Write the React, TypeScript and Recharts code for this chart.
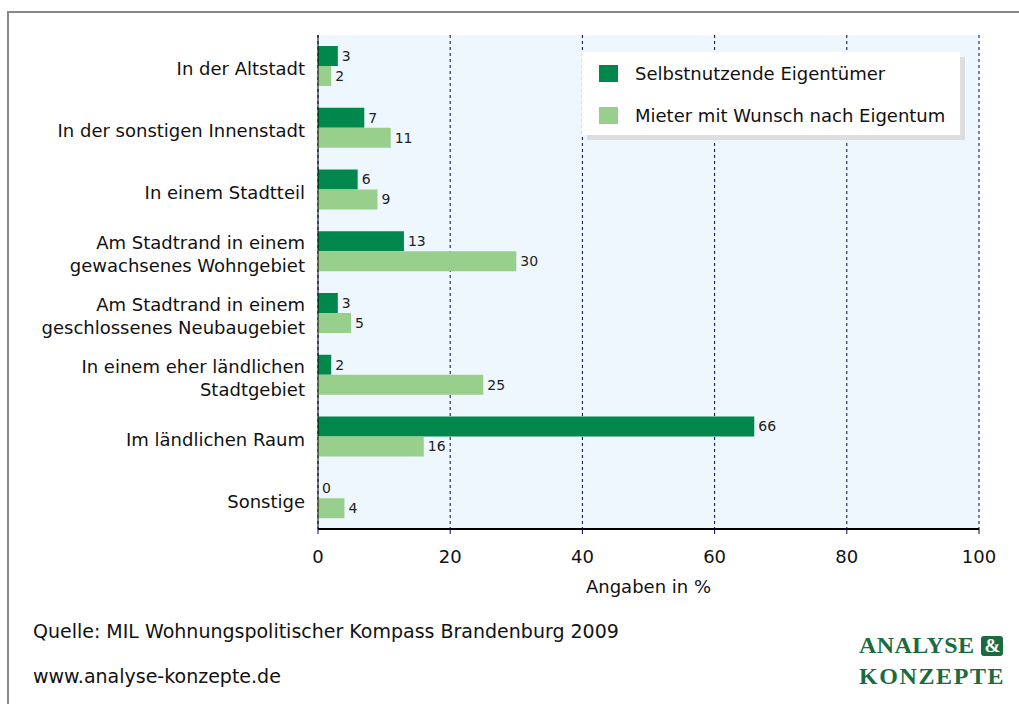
import { BarChart, Bar, XAxis, YAxis, CartesianGrid, LabelList } from 'recharts';

const categories = [
  'In der Altstadt',
  'In der sonstigen Innenstadt',
  'In einem Stadtteil',
  'Am Stadtrand in einem\ngewachsenes Wohngebiet',
  'Am Stadtrand in einem\ngeschlossenes Neubaugebiet',
  'In einem eher ländlichen\nStadtgebiet',
  'Im ländlichen Raum',
  'Sonstige',
];
const owners = [3, 7, 6, 13, 3, 2, 66, 0];
const tenants = [2, 11, 9, 30, 5, 25, 16, 4];
const xTicks = [0, 20, 40, 60, 80, 100];

const seriesNames = ['Selbstnutzende Eigentümer', 'Mieter mit Wunsch nach Eigentum'];
const colors = ['#00874B', '#99CF8C'];

const chartData = categories.map((name, i) => ({ name, owners: owners[i], tenants: tenants[i] }));

const font = '"DejaVu Sans", Verdana, sans-serif';

const CategoryTick = (props: any) => {
  const { x, y, payload } = props;
  const lines = String(payload.value).split('\n');
  const lineH = 23;
  const start = y - ((lines.length - 1) * lineH) / 2 + 3;
  return (
    <text x={x - 5} y={start} textAnchor="end" fontSize={18} fill="#111" fontFamily={font}>
      {lines.map((l, i) => (
        <tspan key={i} x={x - 5} y={start + i * lineH} dominantBaseline="central">
          {l}
        </tspan>
      ))}
    </text>
  );
};

const LegendBox = () => (
  <div
    style={{
      position: 'absolute',
      left: 582,
      top: 52,
      background: '#fff',
      boxShadow: '5px 5px 0 #dddddd',
      width: 378,
      height: 83,
      boxSizing: 'border-box',
      paddingTop: 12,
      paddingLeft: 17,
      fontFamily: font,
      fontSize: 18,
      color: '#111',
    }}
  >
    {seriesNames.map((n, i) => (
      <div key={n} style={{ display: 'flex', alignItems: 'center', height: 19, marginBottom: i === 0 ? 23 : 0 }}>
        <span style={{ display: 'inline-block', width: 19, height: 17, background: colors[i], marginRight: 17 }} />
        <span>{n}</span>
      </div>
    ))}
  </div>
);

export default function App() {
  return (
    <div style={{ position: 'absolute', left: 0, top: 0, width: 1019, height: 704, background: '#fff', overflow: 'hidden' }}>
      <div
        style={{
          position: 'absolute',
          left: 7,
          top: 11,
          width: 1100,
          height: 800,
          border: '2px solid #888',
        }}
      />
      <div style={{ position: 'absolute', left: 0, top: 0 }}>
        <BarChart
          width={1019}
          height={704}
          data={chartData}
          layout="vertical"
          margin={{ top: 35, right: 40, bottom: 111, left: 0 }}
          barSize={20}
          barGap={0}
        >
          <CartesianGrid horizontal={false} stroke="#000066" strokeDasharray="3 3" fill="#EEF6FE" />
          <XAxis
            type="number"
            domain={[0, 100]}
            ticks={xTicks}
            height={64}
            tickSize={5}
            tickMargin={16}
            axisLine={{ stroke: '#000', strokeWidth: 2 }}
            tickLine={{ stroke: '#000080' }}
            tick={{ fontSize: 18, fill: '#111', fontFamily: font }}
            label={{ value: 'Angaben in %', position: 'insideBottom', offset: 0, fontSize: 18, fill: '#111', fontFamily: font }}
          />
          <YAxis
            type="category"
            dataKey="name"
            width={318}
            axisLine={{ stroke: '#000' }}
            tickLine={false}
            tick={<CategoryTick />}
            interval={0}
          />
          <Bar dataKey="owners" name={seriesNames[0]} fill={colors[0]} minPointSize={0.01} isAnimationActive={false}>
            <LabelList dataKey="owners" position="right" offset={4} fontSize={14} fill="#222" fontFamily={font} />
          </Bar>
          <Bar dataKey="tenants" name={seriesNames[1]} fill={colors[1]} isAnimationActive={false}>
            <LabelList dataKey="tenants" position="right" offset={4} fontSize={14} fill="#222" fontFamily={font} />
          </Bar>
        </BarChart>
      </div>
      <LegendBox />
      <div style={{ position: 'absolute', left: 33, top: 620, fontFamily: font, fontSize: 19, color: '#111' }}>
        Quelle: MIL Wohnungspolitischer Kompass Brandenburg 2009
      </div>
      <div style={{ position: 'absolute', left: 33, top: 665, fontFamily: font, fontSize: 19, color: '#111' }}>
        www.analyse-konzepte.de
      </div>
      <div
        style={{
          position: 'absolute',
          left: 859,
          top: 630,
          fontFamily: '"Liberation Serif", serif',
          fontWeight: 'bold',
          fontSize: 24,
          lineHeight: '31px',
          color: '#1B6B40',
        }}
      >
        <div style={{ display: 'flex', alignItems: 'center', letterSpacing: 0.4 }}>
          ANALYSE
          <span
            style={{
              display: 'inline-block',
              marginLeft: 7,
              width: 22,
              height: 20,
              lineHeight: '20px',
              background: '#1B6B40',
              color: '#fff',
              borderRadius: 3,
              textAlign: 'center',
              fontSize: 19,
              letterSpacing: 0,
            }}
          >
            &amp;
          </span>
        </div>
        <div style={{ letterSpacing: 1.6 }}>KONZEPTE</div>
      </div>
    </div>
  );
}
